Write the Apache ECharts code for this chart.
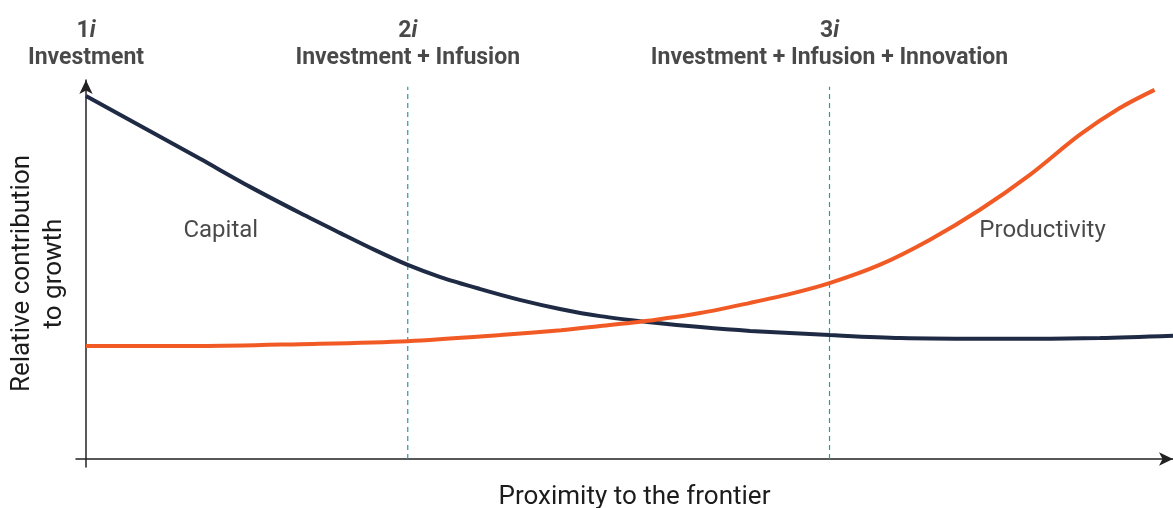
<!DOCTYPE html>
<html>
<head>
<meta charset="utf-8">
<script src="https://cdn.jsdelivr.net/npm/echarts@6/dist/echarts.min.js"></script>
<style>
  html, body { margin: 0; padding: 0; background: #fff; }
  #chart { width: 1173px; height: 508px; }
</style>
</head>
<body>
<div id="chart"></div>
<script>
// x: proximity to the frontier (0-100), y: relative contribution (0-100)
const capital = [
    [0, 95.8], [5.9, 86.5], [10.5, 79.2], [15.1, 71.8], [19.7, 64.9], [23.4, 59.6],
    [26.6, 55.1], [29.6, 51.2], [32.6, 48.0], [36.2, 44.9], [39.9, 42.0], [43.6, 39.6],
    [47.3, 37.7], [51.9, 36.1], [56.5, 34.8], [61.1, 33.8], [68.4, 32.7], [74.9, 31.9],
    [84.1, 31.7], [93.3, 31.9], [100, 32.5]
];
const productivity = [
    [0, 29.8], [10.5, 29.8], [19.7, 30.3], [29.6, 31.1], [38.1, 32.7], [43.7, 34.0],
    [47.3, 35.1], [52.3, 36.7], [56.5, 38.5], [61.1, 41.2], [64.7, 43.5], [68.4, 46.4],
    [73.0, 51.2], [77.6, 57.8], [82.2, 65.7], [86.8, 74.9], [91.4, 85.5], [95.1, 92.6],
    [98.3, 97.4]
];
const stageX = [0, 29.6, 68.4];
const stageNum = ['1', '2', '3'];
const stageNames = ['Investment', 'Investment + Infusion', 'Investment + Infusion + Innovation'];
const curveLabels = [['Capital', 12.4, 60.2], ['Productivity', 88.0, 60.2]];

const font = 'Roboto, "Liberation Sans", sans-serif';
const ink = '#1c1c1c';
const chart = document.getElementById('chart');
const myChart = echarts.init(chart);

const dashed = stageX.slice(1).map(x => ({
    type: 'line',
    data: [[x, 0], [x, 98.2]],
    symbol: 'none',
    silent: true,
    lineStyle: { color: '#2a9a9a', width: 1.2, type: [5, 4] },
    z: 1
}));

let option = {
    animation: false,
    grid: { left: 76, right: 0, top: 80, bottom: 41, outerBoundsMode: 'none' },
    xAxis: {
        type: 'value',
        min: -0.92,
        max: 100,
        name: 'Proximity to the frontier',
        nameLocation: 'middle',
        nameGap: 17,
        nameTextStyle: { fontFamily: font, fontSize: 26, color: ink, padding: [0, 0, 0, 20] },
        axisLine: {
            onZero: true,
            symbol: ['none', 'arrow'],
            symbolSize: [10, 14],
            lineStyle: { color: '#222', width: 1.5 }
        },
        axisTick: { show: false },
        axisLabel: { show: false },
        splitLine: { show: false }
    },
    yAxis: {
        type: 'value',
        min: -2.11,
        max: 100,
        name: 'Relative contribution\nto growth',
        nameLocation: 'middle',
        nameGap: 6,
        nameTextStyle: { fontFamily: font, fontSize: 26, color: ink, lineHeight: 32 },
        axisLine: {
            onZero: true,
            symbol: ['none', 'arrow'],
            symbolSize: [10, 14],
            lineStyle: { color: '#222', width: 1.5 }
        },
        axisTick: { show: false },
        axisLabel: { show: false },
        splitLine: { show: false }
    },
    series: [
        ...dashed,
        {
            name: 'Capital',
            type: 'line',
            data: capital,
            smooth: 0.3,
            symbol: 'none',
            lineStyle: { color: '#1f2b45', width: 4 },
            z: 3
        },
        {
            name: 'Productivity',
            type: 'line',
            data: productivity,
            smooth: 0.3,
            symbol: 'none',
            lineStyle: { color: '#f15a24', width: 4 },
            z: 4
        },
        {
            type: 'scatter',
            symbolSize: 0,
            silent: true,
            data: stageX.map((x, i) => ({ value: [x, 100], num: stageNum[i], title: stageNames[i] })),
            label: {
                show: true,
                position: 'top',
                distance: 8,
                formatter: p => '{n|' + p.data.num + '}{i|i}\n{t|' + p.data.title + '}',
                rich: {
                    n: { fontFamily: font, fontSize: 23, fontWeight: 'bold', color: ink, lineHeight: 27 },
                    i: { fontFamily: font, fontSize: 23, fontWeight: 'bold', fontStyle: 'italic', color: ink, lineHeight: 27 },
                    t: { fontFamily: font, fontSize: 23, fontWeight: 'bold', color: ink, lineHeight: 27 }
                }
            },
            z: 5
        },
        {
            type: 'scatter',
            symbolSize: 0,
            silent: true,
            data: curveLabels.map(d => ({ value: [d[1], d[2]], name: d[0] })),
            label: {
                show: true,
                position: 'inside',
                formatter: '{b}',
                fontFamily: font,
                fontSize: 24,
                color: ink
            },
            z: 5
        }
    ]
};
myChart.setOption(option);
window.addEventListener('resize', () => {
    myChart.resize();
});
</script>
</body>
</html>
